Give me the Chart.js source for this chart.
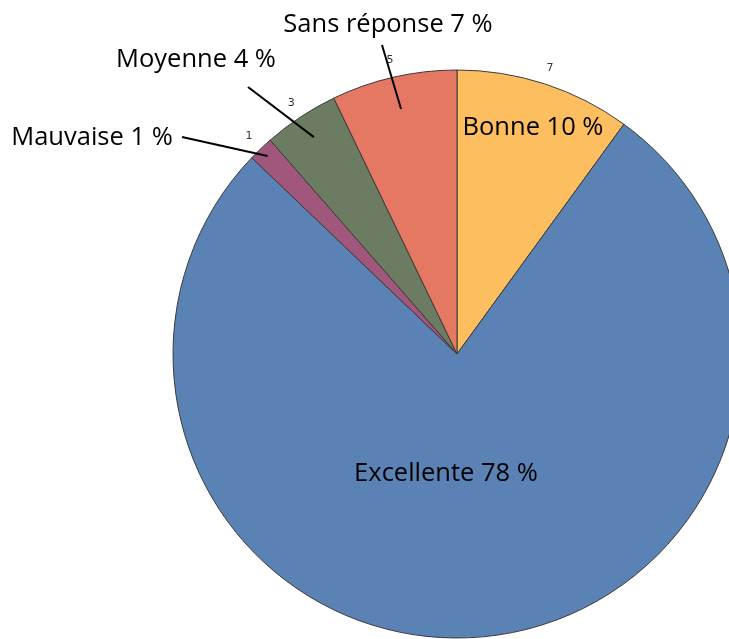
<!DOCTYPE html>
<html>
<head>
<meta charset="utf-8">
<script src="https://cdn.jsdelivr.net/npm/chart.js@4"></script>
<style>
  html, body { margin: 0; padding: 0; background: #fff; overflow: hidden; width: 729px; height: 639px; }
  #chart { position: absolute; left: 0; top: 0; }
</style>
</head>
<body>
<canvas id="chart" width="729" height="639"></canvas>
<script>
// data (counts; 70 answers in total)
const categories = ['Bonne', 'Excellente', 'Mauvaise', 'Moyenne', 'Sans réponse'];
const counts = [7, 54, 1, 3, 5];
const percentLabels = ['10 %', '78 %', '1 %', '4 %', '7 %'];
const smallLabels = ['7', '', '1', '3', '5'];
const colors = ['#fdbe5f', '#5b82b5', '#a1567b', '#6b7c63', '#e57863'];

// where each big label goes (inside slice or outside with a leader line)
const labelStyle = [
    { inside: true, x: 533, y: 128 },
    { inside: true, x: 446, y: 474 },
    { inside: false, x: 92, y: 138, lineFrom: [182, 137], lineR: 0.965 },
    { inside: false, x: 196, y: 60, lineFrom: [248, 87], lineR: 0.915 },
    { inside: false, x: 388, y: 25, lineFrom: [382, 45], lineR: 0.885 }
];

const labelPlugin = {
    id: 'pieLabels',
    afterDatasetsDraw(chart) {
        const ctx = chart.ctx;
        const arcs = chart.getDatasetMeta(0).data;
        ctx.save();
        arcs.forEach((arc, i) => {
            const { x, y, startAngle, endAngle, outerRadius } = arc.getProps(['x', 'y', 'startAngle', 'endAngle', 'outerRadius'], true);
            const mid = (startAngle + endAngle) / 2;
            const st = labelStyle[i];

            // small number just outside the rim
            if (smallLabels[i]) {
                const r = outerRadius + 17;
                ctx.fillStyle = '#333';
                ctx.font = '11px "DejaVu Sans"';
                ctx.textAlign = 'center';
                ctx.textBaseline = 'middle';
                ctx.fillText(smallLabels[i], x + Math.cos(mid) * r, y + Math.sin(mid) * r);
            }

            if (!st.inside) {
                const r = outerRadius * st.lineR;
                ctx.strokeStyle = '#000';
                ctx.lineWidth = 2;
                ctx.beginPath();
                ctx.moveTo(st.lineFrom[0], st.lineFrom[1]);
                ctx.lineTo(x + Math.cos(mid) * r, y + Math.sin(mid) * r);
                ctx.stroke();
            }

            ctx.fillStyle = '#000';
            ctx.font = '25.5px "Open Sans"';
            ctx.textAlign = 'center';
            ctx.textBaseline = 'middle';
            ctx.fillText(categories[i] + ' ' + percentLabels[i], st.x, st.y);
        });
        ctx.restore();
    }
};

new Chart(document.getElementById('chart').getContext('2d'), {
    type: 'pie',
    data: {
        labels: categories,
        datasets: [{
            data: counts,
            backgroundColor: colors,
            borderColor: '#3a3a3a',
            borderWidth: 1,
            hoverOffset: 0
        }]
    },
    options: {
        responsive: false,
        animation: false,
        radius: 284,
        layout: { padding: { left: 185, top: 69, right: 0, bottom: 0 } },
        plugins: {
            legend: { display: false },
            tooltip: { enabled: false }
        }
    },
    plugins: [labelPlugin]
});
</script>
</body>
</html>
